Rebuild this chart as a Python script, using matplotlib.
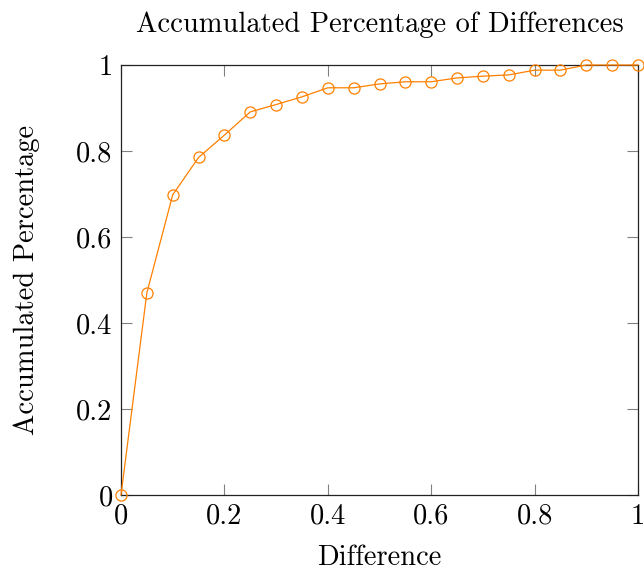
import matplotlib
matplotlib.use("Agg")
import matplotlib.pyplot as plt

plt.rcParams['font.family'] = 'serif'
plt.rcParams['font.serif'] = ['cmr10']
plt.rcParams['axes.formatter.use_mathtext'] = True

difference = [0.0, 0.05, 0.1, 0.15, 0.2, 0.25, 0.3, 0.35, 0.4, 0.45, 0.5,
              0.55, 0.6, 0.65, 0.7, 0.75, 0.8, 0.85, 0.9, 0.95, 1.0]
accumulated = [0.0, 0.470, 0.698, 0.785, 0.837, 0.891, 0.908, 0.926, 0.947, 0.947, 0.956,
               0.961, 0.961, 0.970, 0.974, 0.977, 0.988, 0.988, 1.0, 1.0, 1.0]
ticks = [0, 0.2, 0.4, 0.6, 0.8, 1]
tick_labels = ['0', '0.2', '0.4', '0.6', '0.8', '1']

fig = plt.figure(figsize=(6.44, 5.71), dpi=100)
ax = fig.add_axes([121 / 644, 1 - 495 / 571, (638 - 121) / 644, (495 - 65) / 571])

ax.plot(difference, accumulated, color=(1, 0.5, 0), lw=0.9, marker='o', ms=8,
        mfc='none', mec=(1, 0.5, 0), mew=0.9, clip_on=False, zorder=3)

ax.set_xlim(0, 1)
ax.set_ylim(0, 1)
ax.set_xticks(ticks)
ax.set_xticklabels(tick_labels)
ax.set_yticks(ticks)
ax.set_yticklabels(tick_labels)
ax.tick_params(direction='in', top=True, right=True, length=8, width=0.8,
               color='#808080', labelsize=20.5, pad=6)
for s in ax.spines.values():
    s.set_linewidth(0.9)
    s.set_color('#222222')

ax.set_title('Accumulated Percentage of Differences', fontsize=20.5, pad=24)
ax.set_xlabel('Difference', fontsize=20.5, labelpad=11)
ax.set_ylabel('Accumulated Percentage', fontsize=20.5, labelpad=26)

fig.savefig('out.png', dpi=100)
